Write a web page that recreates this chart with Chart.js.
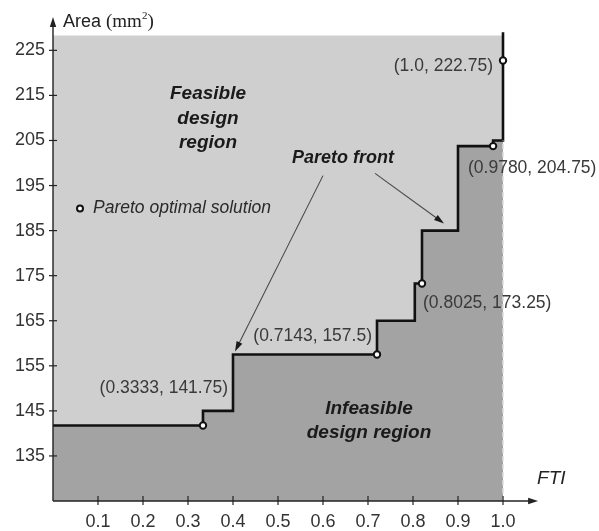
<!DOCTYPE html>
<html><head><meta charset="utf-8">
<script src="https://cdn.jsdelivr.net/npm/chart.js@4.4.1/dist/chart.umd.min.js"></script>
<style>html,body{margin:0;padding:0;background:#fff;}#wrap{width:599px;height:531px;}</style>
</head><body><div id="wrap"><canvas id="c" width="599" height="531"></canvas></div>
<script>
// ---- data ----
const xTickValues = [0.1, 0.2, 0.3, 0.4, 0.5, 0.6, 0.7, 0.8, 0.9, 1.0];
const yTickValues = [135, 145, 155, 165, 175, 185, 195, 205, 215, 225];
// Pareto front (step line)
const frontX = [0, 0.3333, 0.3333, 0.4, 0.4, 0.72, 0.72, 0.804, 0.804, 0.82, 0.82, 0.9, 0.9, 0.978, 0.978, 1.0, 1.0];
const frontY = [141.75, 141.75, 145, 145, 157.5, 157.5, 165, 165, 173.25, 173.25, 185, 185, 203.75, 203.75, 205, 205, 229];
// Pareto optimal solutions
const paretoX = [0.3333, 0.72, 0.82, 0.978, 1.0];
const paretoY = [141.75, 157.5, 173.25, 203.75, 222.75];
const paretoLabels = ['(0.3333, 141.75)', '(0.7143, 157.5)', '(0.8025, 173.25)', '(0.9780, 204.75)', '(1.0, 222.75)'];
// feasible region (upper bound of grey area)
const feasibleX = [0, 1.0];
const feasibleY = [228.3, 228.3];
// FTI = 1 boundary (dashed)
const boundaryX = [1.0, 1.0];
const boundaryY = [125, 205];

const pts = (xs, ys) => xs.map((x, i) => ({x: x, y: ys[i]}));
const SANS = '"Liberation Sans", Arial, sans-serif';
const SERIF = '"Liberation Serif", "Times New Roman", serif';

const deco = {
  id: 'deco',
  afterDatasetsDraw(chart) {
    const ctx = chart.ctx, xs = chart.scales.x, ys = chart.scales.y;
    const px = v => xs.getPixelForValue(v), py = v => ys.getPixelForValue(v);
    ctx.save();
    const x0 = px(0), y0 = py(125);
    // axes
    ctx.strokeStyle = '#222'; ctx.fillStyle = '#222'; ctx.lineWidth = 1.4;
    const tipY = py(232.4), tipX = px(1.078);
    ctx.beginPath(); ctx.moveTo(x0, y0); ctx.lineTo(x0, tipY + 6); ctx.stroke();
    ctx.beginPath(); ctx.moveTo(x0, tipY); ctx.lineTo(x0 - 3.2, tipY + 10); ctx.lineTo(x0 + 3.2, tipY + 10); ctx.closePath(); ctx.fill();
    ctx.beginPath(); ctx.moveTo(x0, y0); ctx.lineTo(tipX - 6, y0); ctx.stroke();
    ctx.beginPath(); ctx.moveTo(tipX, y0); ctx.lineTo(tipX - 10, y0 - 3.2); ctx.lineTo(tipX - 10, y0 + 3.2); ctx.closePath(); ctx.fill();
    // tick marks crossing axes
    ctx.lineWidth = 1.2;
    yTickValues.forEach(v => { const y = py(v); ctx.beginPath(); ctx.moveTo(x0 - 4, y); ctx.lineTo(x0 + 4, y); ctx.stroke(); });
    xTickValues.forEach(v => { const x = px(v); ctx.beginPath(); ctx.moveTo(x, y0 - 5); ctx.lineTo(x, y0 + 4); ctx.stroke(); });

    // axis titles
    ctx.textBaseline = 'middle'; ctx.textAlign = 'left'; ctx.fillStyle = '#222';
    let tx = px(0.0222), ty = py(231.3);
    ctx.font = '18px ' + SANS; ctx.fillText('Area ', tx, ty); tx += ctx.measureText('Area ').width;
    ctx.font = '19px ' + SERIF; ctx.fillText('(mm', tx, ty); tx += ctx.measureText('(mm').width;
    ctx.font = '11px ' + SERIF; ctx.fillText('2', tx, ty - 6); tx += ctx.measureText('2').width;
    ctx.font = '19px ' + SERIF; ctx.fillText(')', tx, ty);
    ctx.font = 'italic 19px ' + SANS; ctx.fillText('FTI', px(1.0756), py(129.9));

    // point labels
    ctx.font = '17.5px ' + SANS; ctx.fillStyle = '#3a3a3a';
    const lab = [
      {x: 0.3889, y: 150.03, a: 'right'},
      {x: 0.7089, y: 161.55, a: 'right'},
      {x: 0.8222, y: 168.86, a: 'left'},
      {x: 0.9222, y: 198.77, a: 'left'},
      {x: 0.9778, y: 221.59, a: 'right'}
    ];
    lab.forEach((l, i) => { ctx.textAlign = l.a; ctx.fillText(paretoLabels[i], px(l.x), py(l.y)); });

    // region labels
    ctx.fillStyle = '#1a1a1a'; ctx.textAlign = 'center';
    ctx.font = 'italic bold 19px ' + SANS;
    ctx.fillText('Feasible', px(0.3444), py(215.38));
    ctx.fillText('design', px(0.3444), py(209.85));
    ctx.fillText('region', px(0.3444), py(204.53));
    ctx.fillText('Infeasible', px(0.7022), py(145.38));
    ctx.fillText('design region', px(0.7022), py(140.06));
    ctx.font = 'italic bold 18px ' + SANS;
    ctx.fillText('Pareto front', px(0.6444), py(201.2));

    // arrows
    const arrow = (xa, ya, xb, yb) => {
      const ax = px(xa), ay = py(ya), bx = px(xb), by = py(yb);
      const ang = Math.atan2(by - ay, bx - ax);
      ctx.strokeStyle = '#4a4a4a'; ctx.lineWidth = 1.1;
      ctx.beginPath(); ctx.moveTo(ax, ay); ctx.lineTo(bx - 8 * Math.cos(ang), by - 8 * Math.sin(ang)); ctx.stroke();
      ctx.fillStyle = '#1a1a1a';
      ctx.beginPath(); ctx.moveTo(bx, by);
      ctx.lineTo(bx - 10 * Math.cos(ang) + 3.2 * Math.sin(ang), by - 10 * Math.sin(ang) - 3.2 * Math.cos(ang));
      ctx.lineTo(bx - 10 * Math.cos(ang) - 3.2 * Math.sin(ang), by - 10 * Math.sin(ang) + 3.2 * Math.cos(ang));
      ctx.closePath(); ctx.fill();
    };
    arrow(0.6, 197.2, 0.4044, 158.2);
    arrow(0.7156, 197.7, 0.8689, 186.6);

    // legend
    const lx = px(0.06), ly = py(189.9);
    ctx.beginPath(); ctx.arc(lx, ly, 3, 0, Math.PI * 2);
    ctx.fillStyle = '#fff'; ctx.fill(); ctx.strokeStyle = '#111'; ctx.lineWidth = 2; ctx.stroke();
    ctx.font = 'italic 17.5px ' + SANS; ctx.fillStyle = '#2a2a2a'; ctx.textAlign = 'left';
    ctx.fillText('Pareto optimal solution', px(0.0889), ly);
    ctx.restore();
  }
};

new Chart(document.getElementById('c'), {
  type: 'scatter',
  data: {
    datasets: [
      {label: 'Pareto optimal solution', data: pts(paretoX, paretoY), order: 0,
       pointRadius: 3.2, pointHoverRadius: 3.2, pointBackgroundColor: '#ffffff', pointBorderColor: '#111', pointBorderWidth: 2, showLine: false},
      {label: 'FTI = 1', data: pts(boundaryX, boundaryY), order: 1, showLine: true, fill: false,
       borderColor: '#dcdcdc', borderWidth: 1.5, borderDash: [5, 3], pointRadius: 0},
      {label: 'Pareto front', data: pts(frontX, frontY), order: 2, showLine: true, fill: 'origin',
       backgroundColor: '#a3a3a3', borderColor: '#111', borderWidth: 2.6, pointRadius: 0, tension: 0},
      {label: 'Feasible design region', data: pts(feasibleX, feasibleY), order: 3, showLine: true, fill: 'origin',
       backgroundColor: '#cfcfcf', borderColor: 'rgba(0,0,0,0)', borderWidth: 0, pointRadius: 0}
    ]
  },
  options: {
    responsive: false, animation: false, devicePixelRatio: 1,
    layout: {padding: {top: 18, left: 0, right: 51, bottom: 0}},
    plugins: {legend: {display: false}, tooltip: {enabled: false}, title: {display: false}},
    scales: {
      x: {type: 'linear', min: 0, max: 1.1,
          afterBuildTicks: s => { s.ticks = xTickValues.map(v => ({value: v})); },
          afterFit: s => { s.height = 30; },
          grid: {display: false, drawTicks: false}, border: {display: false},
          ticks: {padding: 10, color: '#333', font: {family: SANS, size: 18}, callback: v => Number(v).toFixed(1), maxRotation: 0, autoSkip: false}},
      y: {type: 'linear', min: 125, max: 232,
          afterBuildTicks: s => { s.ticks = yTickValues.map(v => ({value: v})); },
          afterFit: s => { s.width = 53; },
          grid: {display: false, drawTicks: false}, border: {display: false},
          ticks: {padding: 8, color: '#333', font: {family: SANS, size: 18}, callback: v => String(v), autoSkip: false}}
    }
  },
  plugins: [deco]
});
</script>
</body></html>
